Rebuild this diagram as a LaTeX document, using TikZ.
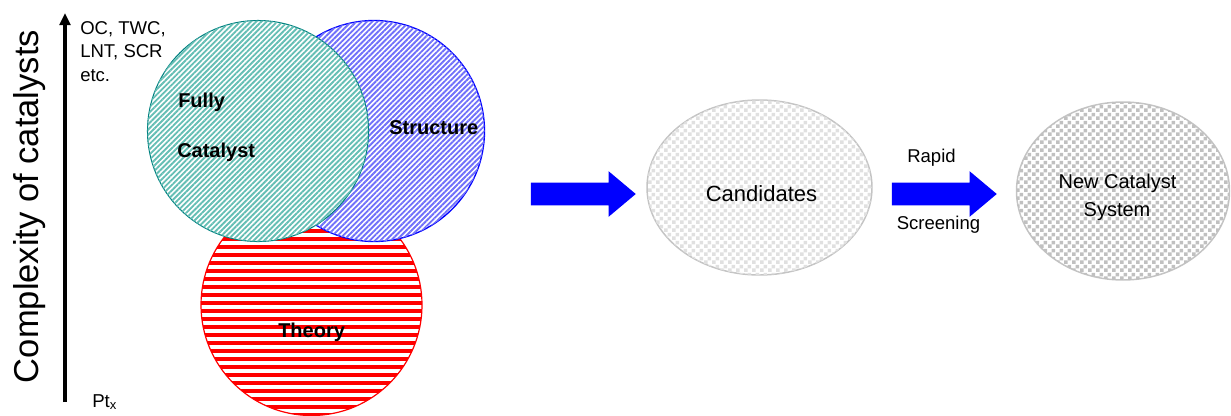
\documentclass[tikz,border=0pt]{standalone}
\usepackage{fontspec}
\setmainfont{Liberation Sans}
\usetikzlibrary{arrows.meta,patterns.meta,shapes.geometric,shapes.arrows}

\definecolor{tealrim}{RGB}{0,128,128}
\definecolor{tealstripe}{RGB}{100,190,180}
\definecolor{bluestripe}{RGB}{112,112,250}
\definecolor{checklight}{RGB}{224,224,224}
\definecolor{checkdark}{RGB}{192,192,192}
\definecolor{rimgray}{RGB}{196,196,196}
\definecolor{arrowblue}{RGB}{0,0,255}

\tikzdeclarepattern{
  name=checks,
  type=uncolored,
  bounding box={(0pt,0pt) and (6pt,6pt)},
  tile size={(6pt,6pt)},
  code={
    \fill (0pt,0pt) rectangle (3pt,3pt);
    \fill (3pt,3pt) rectangle (6pt,6pt);
  }
}

\tikzset{
  every node/.style={inner sep=0pt},
  venn/.style={circle, minimum size=165.75pt, fill=white},
  blob/.style={ellipse, draw=rimgray, line width=1.1pt, fill=white},
  fatarrow/.style={single arrow, fill=arrowblue, minimum height=78.75pt,
    inner xsep=0pt, inner ysep=8.3pt, single arrow head extend=8.6pt,
    single arrow tip angle=80},
  bigtxt/.style={font=\fontsize{25.9}{31}\selectfont},
  smalltxt/.style={font=\fontsize{13.9}{17}\selectfont},
  venntxt/.style={font=\bfseries\fontsize{15}{18}\selectfont},
  flowtxt/.style={font=\fontsize{16.5}{20}\selectfont}
}

\begin{document}
\begin{tikzpicture}[x=0.75pt,y=-0.75pt]
\useasboundingbox (0,0) rectangle (1231,415);
% complexity axis
\coordinate (axisBot) at (65,402);
\coordinate (axisTop) at (65,13);
\draw[line width=2.4pt,-{Triangle[length=9pt,width=8pt]}] (axisBot) -- (axisTop);
\node[bigtxt, rotate=90, anchor=base] (axisName) at (38,206.5) {Complexity of catalysts};
\node[smalltxt, anchor=base west] (sysA) at (80,34) {OC, TWC,};
\node[smalltxt, anchor=base west] (sysB) at (80,57.5) {LNT, SCR};
\node[smalltxt, anchor=base west] (sysC) at (80,81) {etc.};
\node[font=\fontsize{14}{16}\selectfont, anchor=base west] (ptx) at (92,407) {Pt\textsubscript{x}};
% three circles
\node[venn, draw=red, line width=0.9pt,
  postaction={pattern={Lines[angle=0,distance=6pt,line width=2.6pt]}, pattern color=red}]
  (theory) at (311.5,305) {};
\node[venn, draw=blue, line width=1pt,
  postaction={pattern={Lines[angle=45,distance=2.8pt,line width=1.4pt]}, pattern color=bluestripe}]
  (structure) at (374,131) {};
\node[venn, draw=tealrim, line width=0.8pt,
  postaction={pattern={Lines[angle=45,distance=2.8pt,line width=1.4pt]}, pattern color=tealstripe}]
  (fully) at (258,131) {};
\node[venntxt, anchor=base west] (fullyA) at (178,107) {Fully};
\node[venntxt, anchor=base west] (fullyB) at (177,157) {Catalyst};
\node[venntxt, anchor=base west] (structName) at (389,134) {Structure};
\node[venntxt, anchor=base west] (theoryName) at (278,337) {Theory};
% screening flow
\node[fatarrow] (arrA) at (576.5,194) {};
\node[blob, minimum width=168.75pt, minimum height=131.25pt,
  postaction={pattern=checks, pattern color=checklight}] (cand) at (759.5,187.5) {};
\node[flowtxt, anchor=base] (candName) at (761.5,201) {Candidates};
\node[fatarrow] (arrB) at (937.5,194) {};
\node[smalltxt, anchor=base] (rapid) at (931.5,162) {Rapid};
\node[smalltxt, anchor=base] (screen) at (938.5,229) {Screening};
\node[blob, minimum width=159.75pt, minimum height=133.5pt,
  postaction={pattern=checks, pattern color=checkdark}] (newsys) at (1123,191) {};
\node[font=\fontsize{15}{20}\selectfont, anchor=base] (newA) at (1117.5,188) {New Catalyst};
\node[font=\fontsize{15}{20}\selectfont, anchor=base] (newB) at (1117,216) {System};
\end{tikzpicture}
\end{document}
